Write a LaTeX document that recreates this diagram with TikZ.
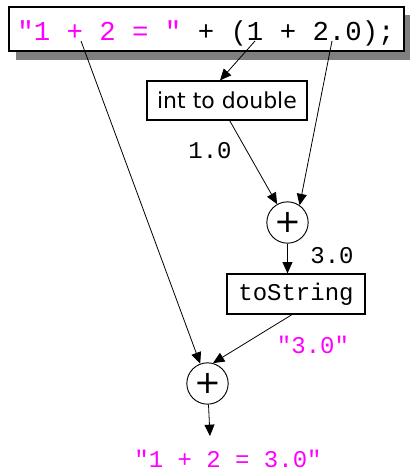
\documentclass[tikz,border=0pt]{standalone}
\usepackage{fontspec}
\setmainfont{DejaVu Sans}
\setmonofont{Liberation Mono}
\usetikzlibrary{arrows.meta}

\definecolor{strmagenta}{RGB}{255,0,255}

\tikzset{
  convbox/.style={draw, fill=white, line width=0.9pt, inner sep=0pt},
  opcircle/.style={draw, circle, fill=white, line width=0.7pt, inner sep=0pt,
    minimum size=31pt, font=\fontsize{24}{24}\selectfont},
  valtext/.style={anchor=base, font=\ttfamily\fontsize{18}{18}\selectfont},
  flow/.style={-{Triangle[length=8.5pt,width=7.5pt]}, line width=0.6pt}
}

\begin{document}
\begin{tikzpicture}[x=0.75pt,y=-0.75pt]

\useasboundingbox (0,0) rectangle (410,472);

% code line with shadow
\fill[gray] (16,15) rectangle (410,60);
\draw[fill=white, line width=0.9pt] (9,7) rectangle (404,51);

\node[anchor=base, font=\ttfamily\fontsize{20.5}{20.5}\selectfont] (code) at (206,40)
{\textcolor{strmagenta}{"1 + 2 = "} + (1 + 2.0);};

% points in the code line
\coordinate (strplus) at (81,41);
\coordinate (intone) at (255,41);
\coordinate (dblpt) at (332,41);

% conversion boxes
\node[convbox, minimum width=120pt, minimum height=29.25pt,
  font=\fontsize{16.5}{16.5}\selectfont] (todouble) at (227,100.5) {int to double};

\node[convbox, minimum width=103.5pt, minimum height=30pt,
  font=\ttfamily\fontsize{18}{18}\selectfont] (tostring) at (296,294) {toString};

% additions
\node[opcircle] (addnum) at (287.5,222.5) {+};
\node[opcircle] (addstr) at (207.5,383.5) {+};

\coordinate (result) at (210,436);

% arrows
\draw[flow] (intone) -- ([xshift=-5.25pt]todouble.north);
\draw[flow] ([xshift=2pt]todouble.south) -- (addnum);
\draw[flow] (dblpt) -- (addnum.55);
\draw[flow] (addnum) -- (addnum |- tostring.north);
\draw[flow] (strplus) -- (addstr);
\draw[flow] ([xshift=-3pt]tostring.south) -- (addstr.75);
\draw[flow] (addstr) -- (result);

% values
\node[valtext] (one) at (210,158) {1.0};
\node[valtext] (three) at (332,263) {3.0};
\node[valtext, text=strmagenta] (threestr) at (313,353) {"3.0"};
\node[valtext, text=strmagenta] (final) at (228,467) {"1 + 2 = 3.0"};

\end{tikzpicture}
\end{document}
